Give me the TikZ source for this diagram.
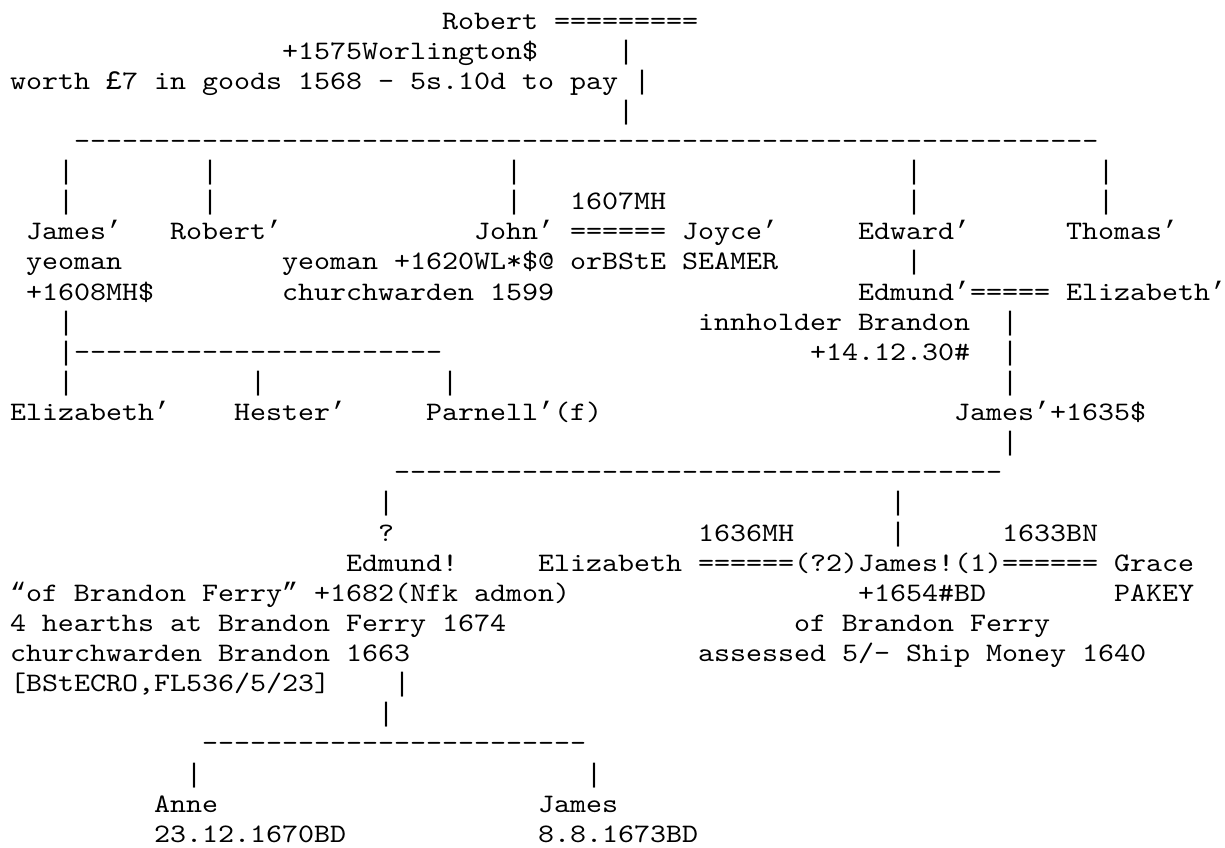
\documentclass[tikz,border=0pt]{standalone}
\usepackage{fontspec}
\newfontfamily\courlike{lmmono10-regular.otf}[FakeStretch=1.143]
\newfontfamily\libm{Liberation Mono}
\ExplSyntaxOn
\cs_new:Npn \myrep #1#2 { \prg_replicate:nn {#1} {#2} }
\ExplSyntaxOff
\newcommand\vbar{{\libm|}}
\newcommand\ap{{\libm ’}}
\newcommand\oq{{\libm “}}
\newcommand\cq{{\libm ”}}
\newcommand\lbp{{\libm £}}
\tikzset{txt/.style={anchor=base west,inner sep=0pt,outer sep=0pt,
  font=\courlike\fontsize{26.67}{30}\selectfont,text=black}}
\newcommand\Lt[3]{\node[txt] (L#1C#2) at ({10+16*#2},{-29-30.12*(#1-1)}) {#3};}
\begin{document}
\begin{tikzpicture}[x=1pt,y=1pt]
\fill[white] (0,0) rectangle (1225,-847);
\useasboundingbox (0,0) rectangle (1225,-847);
% line 1-4
\Lt{1}{27}{Robert =========}
\Lt{2}{17}{+1575Worlington\$}\Lt{2}{38}{\vbar}
\Lt{3}{0}{worth \lbp7 in goods 1568 - 5s.10d to pay \vbar}
\Lt{4}{38}{\vbar}
% line 5
\Lt{5}{4}{\myrep{64}{-}}
% line 6-7
\Lt{6}{3}{\vbar}\Lt{6}{12}{\vbar}\Lt{6}{31}{\vbar}\Lt{6}{56}{\vbar}\Lt{6}{68}{\vbar}
\Lt{7}{3}{\vbar}\Lt{7}{12}{\vbar}\Lt{7}{31}{\vbar}\Lt{7}{35}{1607MH}\Lt{7}{56}{\vbar}\Lt{7}{68}{\vbar}
% line 8-10
\Lt{8}{1}{James\ap}\Lt{8}{10}{Robert\ap}\Lt{8}{29}{John\ap{} ====== Joyce\ap}\Lt{8}{53}{Edward\ap}\Lt{8}{66}{Thomas\ap}
\Lt{9}{1}{yeoman}\Lt{9}{17}{yeoman +1620WL*\$@ orBStE SEAMER}\Lt{9}{56}{\vbar}
\Lt{10}{1}{+1608MH\$}\Lt{10}{17}{churchwarden 1599}\Lt{10}{53}{Edmund\ap===== Elizabeth\ap}
% line 11-15
\Lt{11}{3}{\vbar}\Lt{11}{43}{innholder Brandon}\Lt{11}{62}{\vbar}
\Lt{12}{3}{\vbar\myrep{23}{-}}\Lt{12}{50}{+14.12.30\#}\Lt{12}{62}{\vbar}
\Lt{13}{3}{\vbar}\Lt{13}{15}{\vbar}\Lt{13}{27}{\vbar}\Lt{13}{62}{\vbar}
\Lt{14}{0}{Elizabeth\ap}\Lt{14}{14}{Hester\ap}\Lt{14}{26}{Parnell\ap(f)}\Lt{14}{59}{James\ap+1635\$}
\Lt{15}{62}{\vbar}
% line 16-22
\Lt{16}{24}{\myrep{38}{-}}
\Lt{17}{23}{\vbar}\Lt{17}{55}{\vbar}
\Lt{18}{23}{?}\Lt{18}{43}{1636MH}\Lt{18}{55}{\vbar}\Lt{18}{62}{1633BN}
\Lt{19}{21}{Edmund!}\Lt{19}{33}{Elizabeth ======(?2)James!(1)====== Grace}
\Lt{20}{0}{\oq of Brandon Ferry\cq{} +1682(Nfk admon)}\Lt{20}{53}{+1654\#BD}\Lt{20}{69}{PAKEY}
\Lt{21}{0}{4 hearths at Brandon Ferry 1674}\Lt{21}{49}{of Brandon Ferry}
\Lt{22}{0}{churchwarden Brandon 1663}\Lt{22}{43}{assessed 5/- Ship Money 1640}
% line 23-28
\Lt{23}{0}{[BStECRO,FL536/5/23]}\Lt{23}{24}{\vbar}
\Lt{24}{23}{\vbar}
\Lt{25}{12}{\myrep{24}{-}}
\Lt{26}{11}{\vbar}\Lt{26}{36}{\vbar}
\Lt{27}{9}{Anne}\Lt{27}{33}{James}
\Lt{28}{9}{23.12.1670BD}\Lt{28}{33}{8.8.1673BD}
\end{tikzpicture}
\end{document}
